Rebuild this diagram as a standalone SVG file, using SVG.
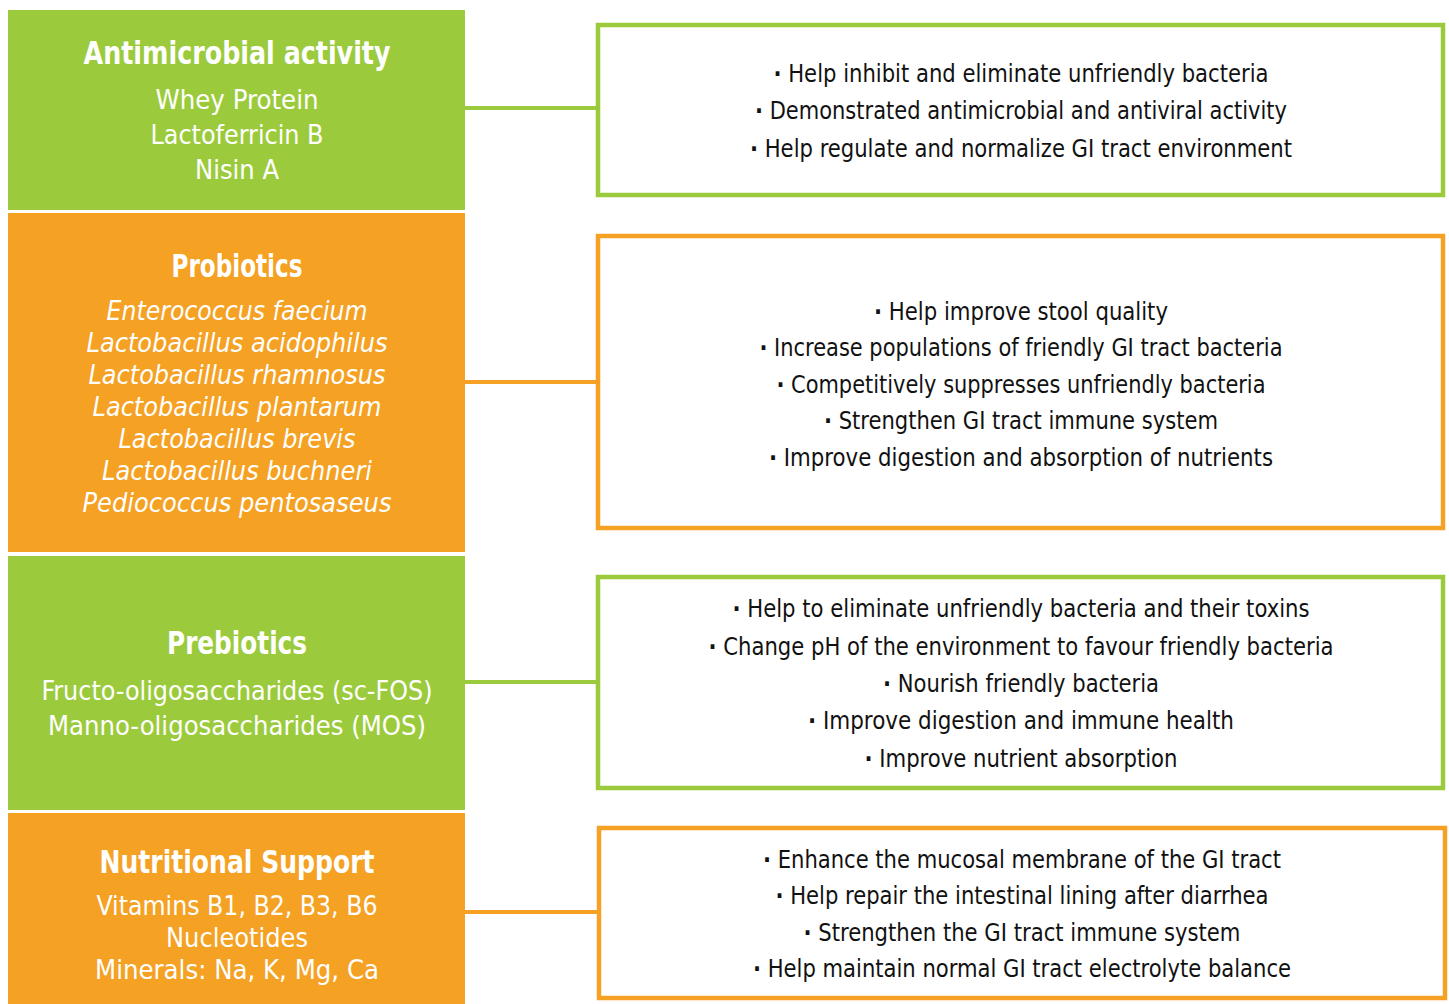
<svg xmlns="http://www.w3.org/2000/svg" width="1449" height="1004" viewBox="0 0 1449 1004">
<style>
.g{fill:#9BCB3C}
.o{fill:#F5A124}
.bg{fill:#fff;stroke:#9BCB3C;stroke-width:4.5}
.bo{fill:#fff;stroke:#F5A124;stroke-width:4.5}
.cg{stroke:#9BCB3C;stroke-width:4;fill:none}
.co{stroke:#F5A124;stroke-width:4;fill:none}
text{font-family:"Liberation Sans Narrow","DejaVu Sans Condensed","Open Sans",sans-serif;text-anchor:middle}
.t{fill:#fff;font-size:32px;font-weight:bold}
.s{fill:#fff;font-size:27px}
.i{fill:#fff;font-size:27px;font-style:italic}
.r{fill:#111;font-size:25px}
.d{font-weight:bold}
</style>
<rect width="1449" height="1004" fill="#fff"/>
<g id="connectors">
<line class="cg" x1="463" y1="108" x2="598" y2="108"/>
<line class="co" x1="463" y1="382" x2="598" y2="382"/>
<line class="cg" x1="463" y1="682" x2="598" y2="682"/>
<line class="co" x1="463" y1="912" x2="598" y2="912"/>
</g>
<g id="antimicrobial">
<rect class="g" x="8" y="10" width="457" height="200"/>
<text class="t" x="237" y="64" textLength="307" lengthAdjust="spacingAndGlyphs">Antimicrobial activity</text>
<text class="s" x="237" y="109" textLength="163" lengthAdjust="spacingAndGlyphs">Whey Protein</text>
<text class="s" x="237" y="144" textLength="173" lengthAdjust="spacingAndGlyphs">Lactoferricin B</text>
<text class="s" x="237" y="179" textLength="84" lengthAdjust="spacingAndGlyphs">Nisin A</text>
</g>
<g id="probiotics">
<rect class="o" x="8" y="213" width="457" height="339"/>
<text class="t" x="237" y="277" textLength="131" lengthAdjust="spacingAndGlyphs">Probiotics</text>
<text class="i" x="237" y="320" textLength="261" lengthAdjust="spacingAndGlyphs">Enterococcus faecium</text>
<text class="i" x="237" y="352" textLength="301" lengthAdjust="spacingAndGlyphs">Lactobacillus acidophilus</text>
<text class="i" x="237" y="384" textLength="297" lengthAdjust="spacingAndGlyphs">Lactobacillus rhamnosus</text>
<text class="i" x="237" y="416" textLength="289" lengthAdjust="spacingAndGlyphs">Lactobacillus plantarum</text>
<text class="i" x="237" y="448" textLength="237" lengthAdjust="spacingAndGlyphs">Lactobacillus brevis</text>
<text class="i" x="237" y="480" textLength="270" lengthAdjust="spacingAndGlyphs">Lactobacillus buchneri</text>
<text class="i" x="237" y="512" textLength="309" lengthAdjust="spacingAndGlyphs">Pediococcus pentosaseus</text>
</g>
<g id="prebiotics">
<rect class="g" x="8" y="556" width="457" height="254"/>
<text class="t" x="237" y="654" textLength="140" lengthAdjust="spacingAndGlyphs">Prebiotics</text>
<text class="s" x="237" y="700" textLength="391" lengthAdjust="spacingAndGlyphs">Fructo-oligosaccharides (sc-FOS)</text>
<text class="s" x="237" y="735" textLength="378" lengthAdjust="spacingAndGlyphs">Manno-oligosaccharides (MOS)</text>
</g>
<g id="nutritional">
<rect class="o" x="8" y="813" width="457" height="191"/>
<text class="t" x="237" y="873" textLength="275" lengthAdjust="spacingAndGlyphs">Nutritional Support</text>
<text class="s" x="237" y="915" textLength="281" lengthAdjust="spacingAndGlyphs">Vitamins B1, B2, B3, B6</text>
<text class="s" x="237" y="947" textLength="142" lengthAdjust="spacingAndGlyphs">Nucleotides</text>
<text class="s" x="237" y="979" textLength="284" lengthAdjust="spacingAndGlyphs">Minerals: Na, K, Mg, Ca</text>
</g>
<g id="antimicrobial-effects">
<rect class="bg" x="598" y="25" width="845" height="170"/>
<text class="r" x="1021" y="82" textLength="495" lengthAdjust="spacingAndGlyphs"><tspan class="d">·</tspan> Help inhibit and eliminate unfriendly bacteria</text>
<text class="r" x="1021" y="119" textLength="532" lengthAdjust="spacingAndGlyphs"><tspan class="d">·</tspan> Demonstrated antimicrobial and antiviral activity</text>
<text class="r" x="1021" y="157" textLength="542" lengthAdjust="spacingAndGlyphs"><tspan class="d">·</tspan> Help regulate and normalize GI tract environment</text>
</g>
<g id="probiotics-effects">
<rect class="bo" x="598" y="236" width="845" height="292"/>
<text class="r" x="1021" y="320" textLength="294" lengthAdjust="spacingAndGlyphs"><tspan class="d">·</tspan> Help improve stool quality</text>
<text class="r" x="1021" y="356" textLength="523" lengthAdjust="spacingAndGlyphs"><tspan class="d">·</tspan> Increase populations of friendly GI tract bacteria</text>
<text class="r" x="1021" y="393" textLength="489" lengthAdjust="spacingAndGlyphs"><tspan class="d">·</tspan> Competitively suppresses unfriendly bacteria</text>
<text class="r" x="1021" y="429" textLength="394" lengthAdjust="spacingAndGlyphs"><tspan class="d">·</tspan> Strengthen GI tract immune system</text>
<text class="r" x="1021" y="466" textLength="504" lengthAdjust="spacingAndGlyphs"><tspan class="d">·</tspan> Improve digestion and absorption of nutrients</text>
</g>
<g id="prebiotics-effects">
<rect class="bg" x="598" y="577" width="845" height="211"/>
<text class="r" x="1021" y="617" textLength="577" lengthAdjust="spacingAndGlyphs"><tspan class="d">·</tspan> Help to eliminate unfriendly bacteria and their toxins</text>
<text class="r" x="1021" y="655" textLength="625" lengthAdjust="spacingAndGlyphs"><tspan class="d">·</tspan> Change pH of the environment to favour friendly bacteria</text>
<text class="r" x="1021" y="692" textLength="276" lengthAdjust="spacingAndGlyphs"><tspan class="d">·</tspan> Nourish friendly bacteria</text>
<text class="r" x="1021" y="729" textLength="426" lengthAdjust="spacingAndGlyphs"><tspan class="d">·</tspan> Improve digestion and immune health</text>
<text class="r" x="1021" y="767" textLength="313" lengthAdjust="spacingAndGlyphs"><tspan class="d">·</tspan> Improve nutrient absorption</text>
</g>
<g id="nutritional-effects">
<rect class="bo" x="599" y="828" width="846" height="170"/>
<text class="r" x="1022" y="868" textLength="518" lengthAdjust="spacingAndGlyphs"><tspan class="d">·</tspan> Enhance the mucosal membrane of the GI tract</text>
<text class="r" x="1022" y="904" textLength="493" lengthAdjust="spacingAndGlyphs"><tspan class="d">·</tspan> Help repair the intestinal lining after diarrhea</text>
<text class="r" x="1022" y="941" textLength="437" lengthAdjust="spacingAndGlyphs"><tspan class="d">·</tspan> Strengthen the GI tract immune system</text>
<text class="r" x="1022" y="977" textLength="538" lengthAdjust="spacingAndGlyphs"><tspan class="d">·</tspan> Help maintain normal GI tract electrolyte balance</text>
</g>
</svg>
